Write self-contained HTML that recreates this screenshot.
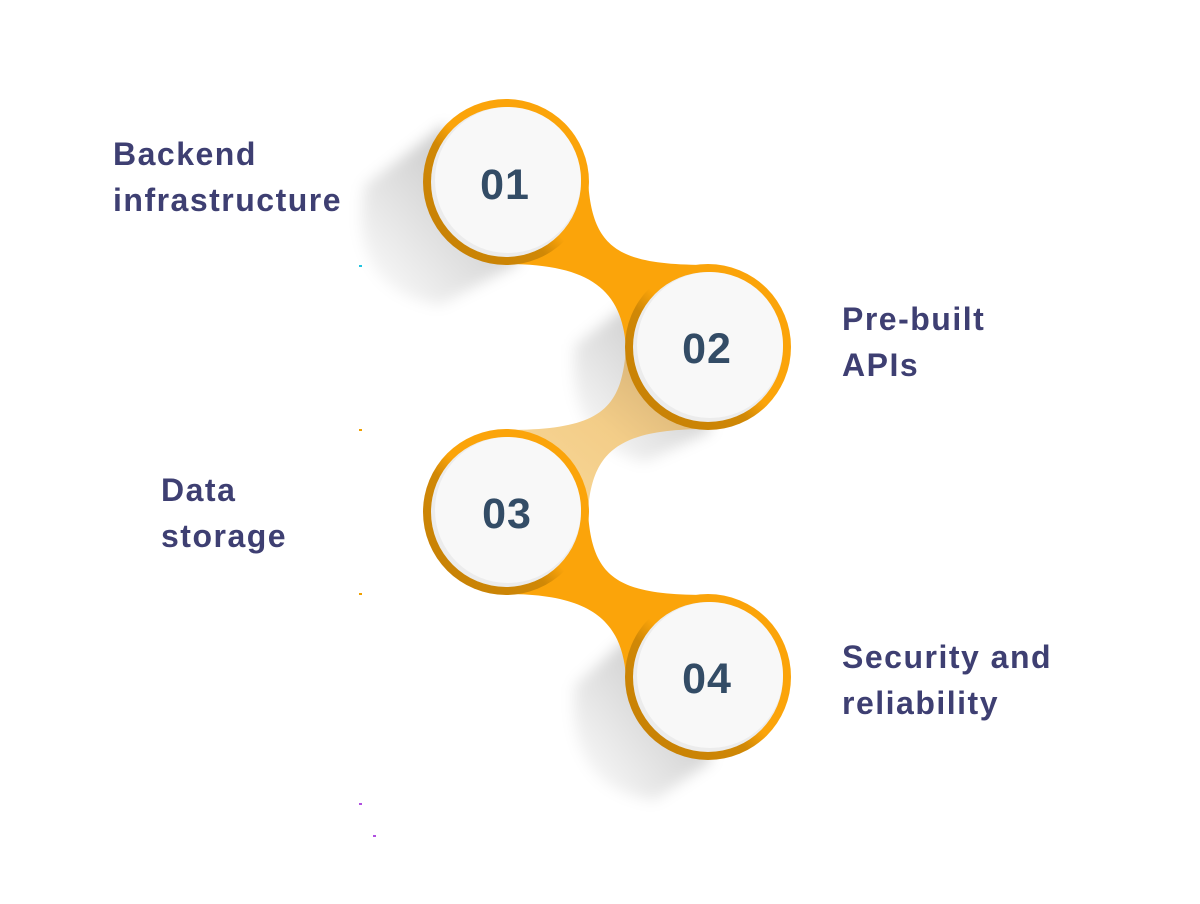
<!DOCTYPE html>
<html><head><meta charset="utf-8"><style>
html,body{margin:0;padding:0;background:#fff;}
body{width:1200px;height:904px;position:relative;overflow:hidden;font-family:"Liberation Sans",sans-serif;}
.lbl{position:absolute;color:#3e3f72;font-weight:bold;font-size:32px;line-height:46px;letter-spacing:1.5px;}
</style></head><body>
<svg width="1200" height="904" style="position:absolute;left:0;top:0">
<defs>
<linearGradient id="ring" x1="0" y1="1" x2="1" y2="0">
<stop offset="0" stop-color="#C47F04"/><stop offset="0.4" stop-color="#D08806"/><stop offset="0.5" stop-color="#FBA40A"/><stop offset="1" stop-color="#FBA40A"/>
</linearGradient>
<linearGradient id="pale" x1="0" y1="1" x2="1" y2="0">
<stop offset="0" stop-color="#F9D99A"/><stop offset="0.5" stop-color="#F3CD88"/><stop offset="1" stop-color="#C9A670"/>
</linearGradient>
<linearGradient id="sh" x1="1" y1="0" x2="0" y2="1">
<stop offset="0" stop-color="#000" stop-opacity="0.28"/><stop offset="1" stop-color="#000" stop-opacity="0"/>
</linearGradient>
<filter id="bl"><feGaussianBlur stdDeviation="7"/></filter>
</defs>
<g filter="url(#bl)">
<path d="M445,125 L365,185 Q345,290 440,305 L520,262 Z" fill="url(#sh)"/>
<path d="M648,290 L575,345 Q565,445 645,462 L712,430 Z" fill="url(#sh)"/>
<path d="M648,620 L575,685 Q565,790 655,800 L712,760 Z" fill="url(#sh)"/>
</g>
<path d="M588,180 C592,250 620,265 708,265 L708,300 L626,347 C622,290 590,264 506,264 Z" fill="#FBA40A"/>
<path d="M626,347 C622,410 600,430 506,430 L506,470 L588,512 C592,450 620,429 708,429 Z" fill="url(#pale)"/>
<path d="M588,512 C592,580 620,595 708,595 L708,630 L626,677 C622,620 590,594 506,594 Z" fill="#FBA40A"/>
<g>
<circle cx="506" cy="182" r="83" fill="url(#ring)"/><circle cx="506" cy="182" r="75" fill="#ececec"/><circle cx="508" cy="180" r="73" fill="#f8f8f8"/>
<circle cx="708" cy="347" r="83" fill="url(#ring)"/><circle cx="708" cy="347" r="75" fill="#ececec"/><circle cx="710" cy="345" r="73" fill="#f8f8f8"/>
<circle cx="506" cy="512" r="83" fill="url(#ring)"/><circle cx="506" cy="512" r="75" fill="#ececec"/><circle cx="508" cy="510" r="73" fill="#f8f8f8"/>
<circle cx="708" cy="677" r="83" fill="url(#ring)"/><circle cx="708" cy="677" r="75" fill="#ececec"/><circle cx="710" cy="675" r="73" fill="#f8f8f8"/>
</g>
<g font-family="Liberation Sans, sans-serif" font-weight="bold" font-size="43" fill="#334c66" text-anchor="middle" letter-spacing="1">
<text x="505" y="199">01</text>
<text x="707" y="363">02</text>
<text x="507" y="528">03</text>
<text x="707" y="693">04</text>
</g>
<g>
<rect x="359" y="265" width="3" height="2" fill="#22c4e0"/>
<rect x="359" y="429" width="3" height="2" fill="#f0a000"/>
<rect x="359" y="593" width="3" height="2" fill="#f0a000"/>
<rect x="359" y="803" width="3" height="2" fill="#b050e0"/>
<rect x="373" y="835" width="3" height="2" fill="#b050e0"/>
</g>
</svg>
<div class="lbl" style="left:113px;top:131px">Backend<br>infrastructure</div>
<div class="lbl" style="left:842px;top:296px">Pre-built<br>APIs</div>
<div class="lbl" style="left:161px;top:467px">Data<br>storage</div>
<div class="lbl" style="left:842px;top:634px">Security and<br>reliability</div>
</body></html>
